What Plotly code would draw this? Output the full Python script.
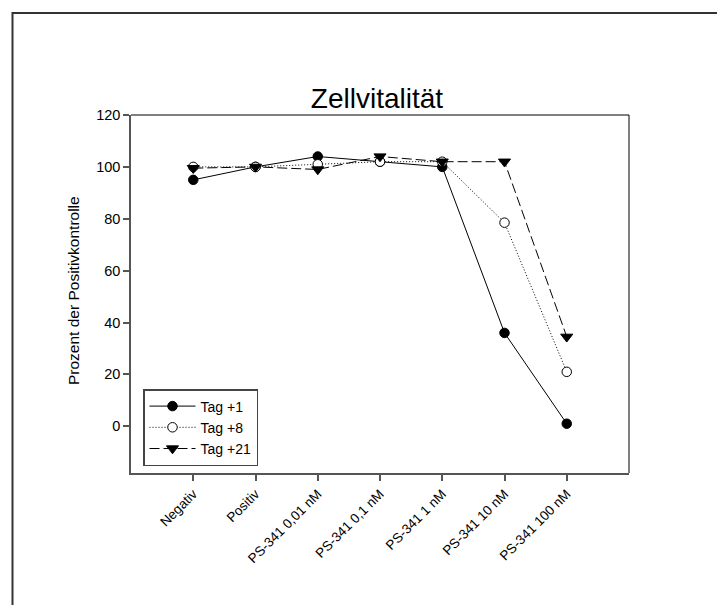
import plotly.graph_objects as go

# Treatment groups along the x axis
categories = ["Negativ", "Positiv", "PS-341 0,01 nM", "PS-341 0,1 nM",
              "PS-341 1 nM", "PS-341 10 nM", "PS-341 100 nM"]

# Viability in percent of the positive control, per day
tag1 = [95, 100, 104, 102, 100, 36, 1]
tag8 = [100, 100, 101, 102, 102, 78.5, 21]
tag21 = [99.5, 100, 99, 104, 102, 102, 34.5]

y_ticks = [0, 20, 40, 60, 80, 100, 120]

W, H = 717, 605
L, R, T, B = 131, 88, 115, 132
FONT = "Liberation Sans, Arial, Helvetica, sans-serif"

x_idx = list(range(len(categories)))

fig = go.Figure()
fig.add_trace(go.Scatter(
    x=x_idx, y=tag1, name="Tag +1", mode="lines+markers",
    line=dict(color="black", width=1, dash="solid"),
    marker=dict(symbol="circle", size=9.5, color="black",
                line=dict(color="black", width=1)),
))
fig.add_trace(go.Scatter(
    x=x_idx, y=tag8, name="Tag +8", mode="lines+markers",
    line=dict(color="black", width=1, dash="1px,2px"),
    marker=dict(symbol="circle", size=9.5, color="white",
                line=dict(color="black", width=1)),
))
fig.add_trace(go.Scatter(
    x=x_idx, y=tag21, name="Tag +21", mode="lines+markers",
    line=dict(color="black", width=1, dash="10px,4px"),
    marker=dict(symbol="triangle-down", size=10.5, color="black",
                line=dict(color="black", width=1)),
))

pw, ph = W - L - R, H - T - B

def px_x(v):
    return (v - L) / pw

def px_y(v):
    return (H - B - v) / ph

shapes = [
    # outer page frame (left and top edges visible)
    dict(type="rect", xref="paper", yref="paper",
         x0=px_x(12.5), x1=px_x(W + 10), y0=px_y(H + 10), y1=px_y(13),
         line=dict(color="#333333", width=2), fillcolor="rgba(0,0,0,0)",
         layer="below"),
    # top and right edges of the plot frame
    dict(type="line", xref="paper", yref="paper", x0=0, x1=1, y0=1, y1=1,
         line=dict(color="black", width=1)),
    dict(type="line", xref="paper", yref="paper", x0=1, x1=1, y0=0, y1=1,
         line=dict(color="black", width=1)),
]

fig.update_layout(
    width=W, height=H,
    margin=dict(l=L, r=R, t=T, b=B),
    paper_bgcolor="white", plot_bgcolor="white",
    font=dict(family=FONT, color="black", size=14),
    title=dict(text="Zellvitalität", x=377 / W,
               xanchor="center", xref="container",
               y=1 - 98 / H, yanchor="middle", yref="container",
               font=dict(size=28, family=FONT, color="black")),
    showlegend=True,
    legend=dict(
        x=px_x(143), y=px_y(389), xanchor="left", yanchor="top",
        bgcolor="white", bordercolor="#444444", borderwidth=1.5,
        font=dict(size=14, family=FONT, color="black"),
        itemwidth=46, tracegroupgap=0,
    ),
    xaxis=dict(
        range=[-1, 7], tickmode="array", tickvals=x_idx, ticktext=categories,
        tickangle=-45, ticks="outside", ticklen=6, tickcolor="#555555",
        tickwidth=1.5, showline=True, linecolor="#555555", linewidth=1.5,
        showgrid=False, zeroline=False, tickfont=dict(size=13.5),
    ),
    yaxis=dict(
        range=[-18, 120], tickmode="array", tickvals=y_ticks,
        ticks="outside", ticklen=6, tickcolor="#555555", tickwidth=1.5,
        showline=True, linecolor="#555555", linewidth=1.5,
        showgrid=False, zeroline=False, tickfont=dict(size=14.5),
    ),
    shapes=shapes,
    annotations=[
        dict(text="Prozent der Positivkontrolle", xref="paper", yref="paper",
             x=px_x(73), y=px_y(291), textangle=-90, showarrow=False,
             xanchor="center", yanchor="middle",
             font=dict(size=15.5, family=FONT, color="black")),
    ],
)

fig.write_html("out.html")
